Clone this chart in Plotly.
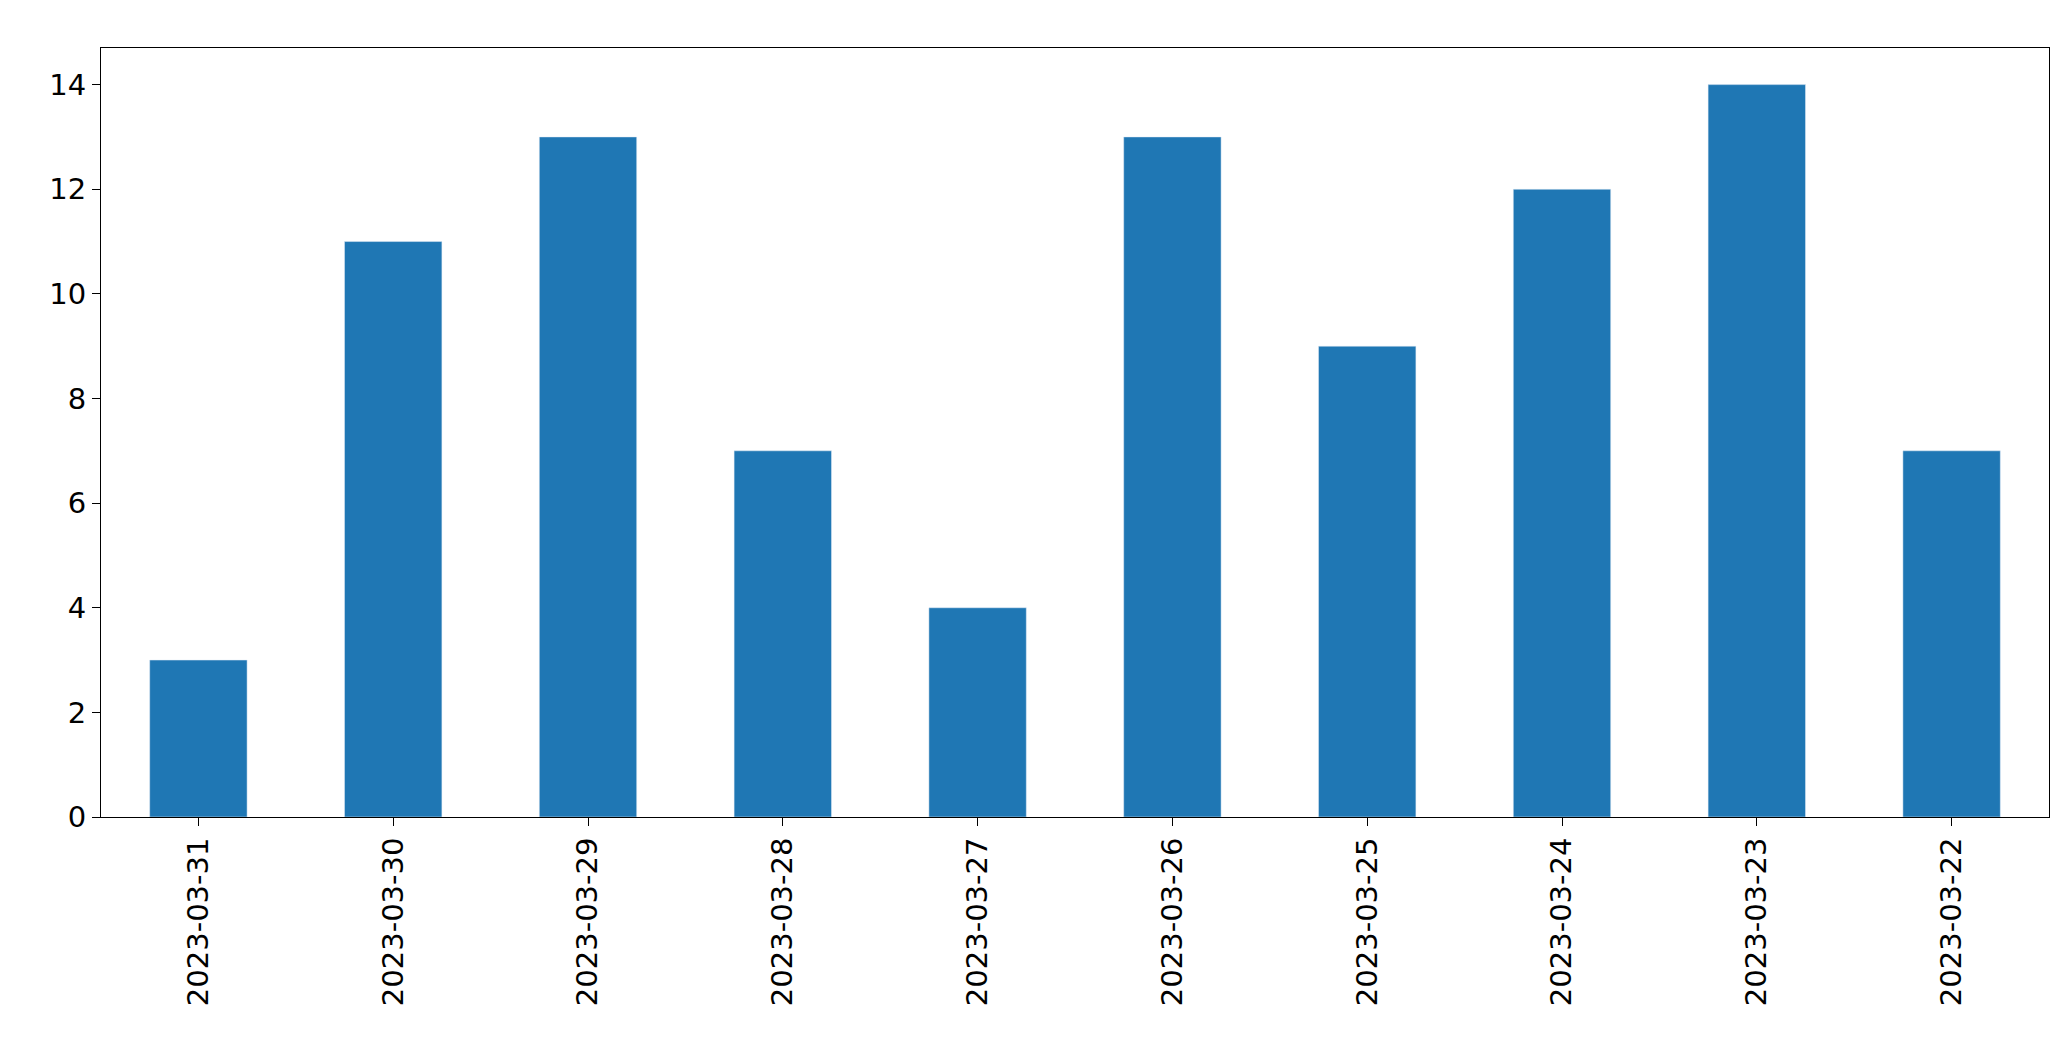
import plotly.graph_objects as go

dates = ["2023-03-31","2023-03-30","2023-03-29","2023-03-28","2023-03-27",
         "2023-03-26","2023-03-25","2023-03-24","2023-03-23","2023-03-22"]
counts = [3, 11, 13, 7, 4, 13, 9, 12, 14, 7]

fig = go.Figure(go.Bar(x=dates, y=counts, marker_color="#1f77b4", width=0.5))
fig.update_layout(
    width=2071, height=1061, plot_bgcolor="white", paper_bgcolor="white",
    margin=dict(l=93, r=30, t=40, b=252), showlegend=False,
    font=dict(family="DejaVu Sans", size=29, color="black"),
)
fig.update_xaxes(type="category", tickangle=-90, showline=True, linecolor="black",
                 mirror=True, ticks="outside", ticklen=8, tickcolor="black", showgrid=False)
fig.update_yaxes(range=[0, 14.7], dtick=2, showline=True, linecolor="black",
                 mirror=True, ticks="outside", ticklen=8, tickcolor="black",
                 showgrid=False, zeroline=False)
fig.write_html("out.html")
